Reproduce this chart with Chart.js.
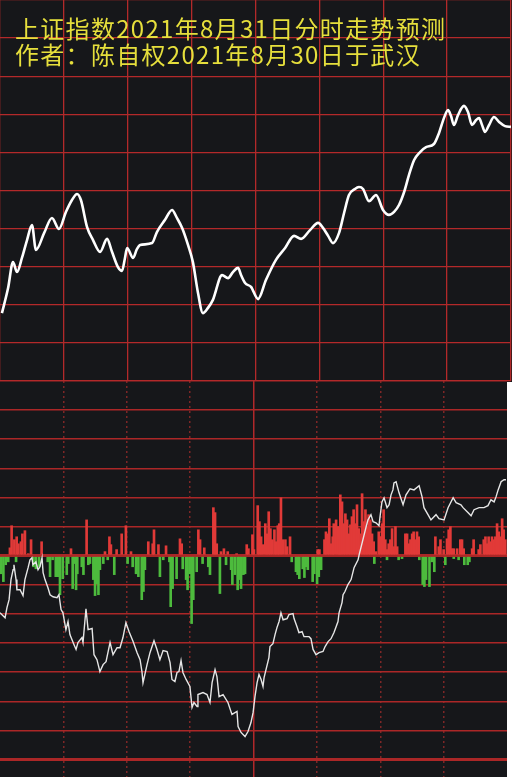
<!DOCTYPE html>
<html><head><meta charset="utf-8">
<script src="https://cdn.jsdelivr.net/npm/chart.js@4.4.1/dist/chart.umd.min.js"></script>
<style>
html,body{margin:0;padding:0;background:#ffffff;width:512px;height:777px;overflow:hidden;}
#topPanel{position:absolute;left:0;top:0;width:512px;height:382px;background:#16171a;}
#bottomPanel{position:absolute;left:0;top:381px;width:507px;height:396px;background:#16171a;}
#title{position:absolute;left:15px;top:15px;color:#e6df3c;font-family:"Noto Sans CJK SC";font-size:24px;line-height:26px;letter-spacing:1.3px;white-space:nowrap;}
canvas{display:block;}
</style></head><body>
<div id="topPanel"><canvas id="c1" width="512" height="382"></canvas></div>
<div id="bottomPanel"><canvas id="c2" width="507" height="396"></canvas></div>
<div id="title">上证指数2021年8月31日分时走势预测<br>作者：陈自权2021年8月30日于武汉</div>
<script>
// ---- data (x = trading minute 0..240) ----
// forecast curve (top panel), y in grid units
const forecastCurve = [[0.9,1.78],[3.8,2.44],[6.1,3.12],[8.0,2.86],[10.3,3.23],[12.7,3.70],[15.0,4.09],[16.9,3.44],[20.7,3.88],[24.4,4.28],[27.7,3.99],[31.0,4.44],[33.8,4.75],[36.2,4.91],[38.0,4.75],[40.9,4.04],[43.7,3.70],[47.0,3.39],[50.3,3.73],[52.6,3.39],[55.4,2.99],[57.3,2.89],[58.7,3.23],[59.7,3.49],[62.5,3.23],[64.3,3.46],[65.8,3.57],[71.4,3.62],[73.7,3.91],[77.5,4.23],[80.8,4.49],[83.1,4.28],[85.5,4.02],[88.3,3.57],[90.6,3.12],[93.0,2.31],[95.3,1.78],[97.7,1.92],[100.0,2.13],[104.3,2.78],[107.1,2.70],[109.4,2.86],[111.8,2.97],[113.2,2.78],[115.1,2.57],[117.9,2.47],[121.2,2.15],[124.9,2.65],[129.6,3.18],[133.9,3.49],[138.1,3.81],[141.4,3.73],[145.6,3.96],[149.4,4.15],[151.7,4.02],[154.1,3.81],[156.4,3.62],[159.2,3.88],[161.6,4.41],[163.9,4.88],[166.7,5.04],[168.6,5.09],[170.5,5.04],[173.3,4.72],[176.6,4.88],[179.9,4.49],[182.7,4.36],[185.1,4.44],[187.4,4.62],[189.8,4.96],[192.1,5.41],[194.5,5.80],[197.3,6.01],[200.1,6.14],[203.8,6.22],[206.2,6.51],[208.5,6.90],[210.4,7.11],[211.8,6.96],[213.2,6.72],[215.1,6.98],[217.9,7.22],[219.8,7.06],[221.7,6.72],[223.6,6.85],[225.0,6.90],[226.4,6.72],[227.8,6.54],[229.7,6.72],[232.0,6.93],[234.4,6.80],[237.2,6.69],[240.0,6.67]];

// intraday line (bottom panel)
const intradayLine = [[0,-1.96],[2.4,-2.13],[3.3,-1.78],[4.3,-1.51],[5.2,-0.82],[6.2,-0.48],[6.6,-0.31],[7.6,-0.82],[8.0,-1.17],[9.5,-1.17],[10.9,-1.37],[11.8,-0.82],[13.3,-0.41],[14.2,-0.14],[15.1,-0.07],[15.6,-0.31],[17.0,-0.21],[18.0,-0.48],[18.9,-0.38],[19.9,-0.07],[20.4,-0.58],[21.3,-0.82],[22.7,-1.10],[23.7,-1.34],[25.1,-1.41],[27.0,-1.44],[27.9,-1.34],[28.9,-1.85],[29.8,-1.96],[31.2,-2.54],[32.2,-2.26],[33.1,-2.71],[35.0,-3.05],[36.0,-3.22],[36.9,-2.98],[38.8,-2.81],[39.3,-2.98],[40.7,-1.82],[41.7,-2.54],[43.6,-2.50],[44.5,-3.40],[45.9,-3.57],[47.3,-3.98],[48.8,-3.74],[50.2,-3.64],[52.1,-2.98],[53.5,-3.40],[55.4,-3.16],[56.8,-3.16],[58.2,-2.81],[59.6,-2.30],[61.1,-2.61],[63.0,-2.95],[64.9,-3.33],[66.3,-3.57],[67.2,-3.98],[67.7,-4.36],[69.6,-3.74],[71.0,-3.33],[72.9,-2.92],[74.3,-3.22],[75.7,-3.57],[77.2,-3.26],[79.1,-3.29],[80.5,-3.67],[81.4,-4.25],[82.8,-4.32],[83.8,-4.01],[84.7,-3.98],[85.7,-3.60],[86.6,-4.01],[88.1,-4.25],[89.9,-4.49],[90.9,-5.21],[91.8,-5.04],[93.3,-5.18],[93.7,-4.77],[96.1,-4.70],[98.0,-4.77],[99.4,-5.04],[100.4,-4.36],[101.8,-3.91],[102.7,-4.15],[103.7,-4.84],[105.6,-4.77],[107.9,-5.04],[109.8,-5.45],[112.2,-5.35],[112.7,-5.87],[114.1,-6.07],[116.0,-6.21],[117.4,-6.04],[118.8,-5.73],[119.8,-5.39],[120.7,-4.84],[121.7,-4.36],[122.6,-4.08],[123.6,-4.25],[124.5,-4.49],[125.0,-4.19],[127.3,-3.50],[127.8,-3.12],[129.2,-3.02],[130.2,-2.71],[131.1,-2.47],[132.1,-2.26],[133.0,-1.96],[134.0,-2.20],[135.9,-2.16],[136.8,-2.02],[138.7,-1.99],[139.2,-2.16],[140.6,-2.44],[141.5,-2.64],[143.0,-2.61],[143.9,-2.78],[146.3,-2.78],[147.2,-2.85],[148.2,-3.22],[149.6,-3.40],[151.0,-3.33],[152.9,-3.29],[153.9,-3.12],[155.3,-2.95],[156.7,-2.85],[158.1,-2.64],[159.1,-2.44],[160.0,-2.26],[160.5,-1.96],[161.9,-1.61],[162.4,-1.34],[163.3,-1.23],[164.7,-0.99],[166.2,-0.82],[167.6,-0.41],[169.5,-0.14],[170.0,0.03],[171.8,0.55],[173.3,0.99],[174.2,1.23],[175.6,1.41],[176.6,1.17],[178.0,1.13],[179.4,1.03],[179.9,1.34],[180.8,1.85],[181.8,1.99],[183.2,1.65],[184.2,1.75],[185.1,2.09],[186.0,2.26],[186.5,2.50],[187.5,2.54],[188.9,2.16],[190.8,1.75],[192.2,2.09],[194.1,2.30],[196.0,2.26],[198.4,2.40],[199.8,2.02],[200.7,1.65],[202.6,1.41],[204.0,1.23],[206.4,1.41],[207.8,1.27],[210.2,1.23],[212.1,1.65],[214.5,1.99],[215.9,1.82],[218.2,1.75],[219.2,1.65],[221.5,1.48],[223.0,1.37],[224.4,1.58],[226.8,1.65],[229.1,1.65],[231.0,1.72],[232.4,1.92],[233.9,1.85],[234.8,2.02],[235.8,2.26],[237.2,2.54],[238.6,2.61],[239.5,2.61]];

// up (red) bars
const upBars = [[4.7,0.27],[5.5,1.03],[6.8,0.55],[7.9,0.65],[8.7,0.41],[9.9,0.48],[10.6,0.75],[11.8,0.86],[13.4,0.07],[14.7,0.55],[19.7,0.48],[33.6,0.24],[41.0,1.23],[49.7,0.14],[51.8,0.65],[52.5,0.38],[55.2,0.21],[57.6,0.75],[59.6,1.03],[62.0,0.14],[70.2,0.48],[72.3,0.41],[72.9,0.89],[75.0,0.38],[78.6,0.34],[85.2,0.58],[86.0,0.41],[93.9,0.89],[94.7,0.55],[96.7,0.27],[101.0,1.65],[101.8,1.48],[102.6,0.41],[104.6,0.14],[106.0,0.24],[107.8,0.14],[112.0,0.07],[116.8,0.38],[117.6,0.24],[119.5,0.72],[120.2,0.21],
[122.0,1.72],[122.8,1.17],[123.6,0.65],[124.4,0.38],[125.6,1.10],[126.4,0.75],[127.2,1.51],[128.0,0.93],[128.8,0.55],[129.9,0.89],[130.7,0.48],[131.5,1.03],[132.2,1.10],[133.0,1.99],[133.8,0.55],[135.1,0.55],[135.9,0.31],[137.3,0.65],[150.4,0.21],[151.2,0.21],[153.6,0.55],[154.3,0.82],[155.1,0.75],[155.9,1.27],[156.7,0.41],[157.5,0.65],[158.0,1.10],[159.1,1.23],[159.9,1.00],[160.7,0.55],[161.1,2.09],[161.9,1.85],[162.7,1.10],[163.5,1.44],[164.3,1.23],[165.1,0.75],[165.9,1.06],[166.6,1.34],[167.4,1.58],[168.2,1.10],[169.0,1.75],[169.8,0.93],[170.6,0.75],[171.4,2.13],[172.2,1.17],[173.0,1.58],[173.7,1.00],[174.5,1.41],[175.3,1.23],[176.1,0.75],[176.9,0.48],[178.0,0.14],[179.3,0.82],[180.1,0.65],[180.9,1.10],[181.6,1.58],[182.4,0.55],[183.2,0.21],[184.0,0.41],[184.8,0.55],[185.6,0.93],[186.4,0.31],[187.2,1.00],[188.0,0.31],[191.9,0.75],[192.7,0.75],[193.5,0.41],[194.3,0.55],[195.1,0.75],[195.8,0.82],[196.6,0.55],[197.4,0.82],[198.2,0.65],[206.1,0.65],[207.7,0.31],[208.5,0.55],[210.0,0.21],[211.6,0.58],[212.4,0.89],[213.2,1.00],[214.0,0.24],[214.8,0.24],[216.4,0.24],[217.9,0.55],[218.7,0.55],[219.5,0.24],[223.5,0.24],[224.2,0.55],[226.6,0.21],[227.4,0.38],[229.0,0.55],[229.8,0.65],[230.6,0.41],[231.3,0.65],[232.1,0.48],[232.9,0.65],[233.7,0.55],[234.5,0.65],[235.3,1.10],[236.1,0.82],[236.9,0.65],[237.7,1.27],[238.4,0.89],[239.2,0.55]];

// down (green) bars
const downBars = [[0.5,-0.62],[1.6,-0.89],[2.7,-0.31],[3.9,-0.21],[7.6,-0.21],[15.8,-0.38],[17.0,-0.45],[18.5,-0.38],[22.6,-0.21],[23.7,-0.72],[24.9,-0.14],[26.4,-0.72],[27.6,-0.72],[28.4,-1.34],[29.7,-0.79],[31.6,-0.65],[32.3,-0.27],[34.4,-1.13],[35.2,-0.27],[36.0,-1.17],[36.6,-0.62],[38.7,-0.38],[39.5,-0.65],[41.8,-0.31],[42.6,-0.27],[44.2,-0.82],[45.0,-1.37],[45.8,-0.96],[46.6,-1.34],[47.3,-0.48],[48.9,-0.27],[51.0,-0.14],[54.1,-0.65],[60.4,-0.27],[62.8,-0.38],[64.4,-0.62],[65.5,-0.72],[67.1,-1.51],[67.9,-1.23],[68.6,-0.48],[75.7,-0.72],[77.3,-0.14],[80.2,-0.21],[80.8,-1.75],[81.7,-1.13],[83.6,-0.79],[86.5,-0.45],[88.1,-0.82],[88.8,-1.17],[89.9,-0.62],[90.7,-2.33],[91.5,-1.51],[93.1,-0.55],[95.9,-0.27],[98.6,-0.38],[99.4,-0.65],[104.1,-1.30],[107.0,-0.31],[109.4,-0.48],[110.0,-0.99],[111.2,-0.65],[112.5,-1.17],[113.3,-0.82],[114.1,-1.13],[115.2,-0.65],[116.0,-0.62],
[138.1,-0.21],[140.1,-0.55],[140.9,-0.65],[141.7,-0.79],[143.3,-0.45],[144.1,-0.75],[144.9,-0.38],[145.7,-0.48],[148.0,-0.89],[148.8,-0.62],[150.1,-0.96],[150.9,-0.72],[152.0,-0.48],[177.2,-0.27],[183.2,-0.14],[188.7,-0.14],[190.3,-0.10],[198.5,-0.14],[200.1,-0.99],[200.9,-1.06],[201.7,-0.82],[203.3,-1.06],[204.5,-0.21],[205.6,-0.55],[210.8,-0.31],[214.8,-0.10],[217.1,-0.14],[219.8,-0.31],[221.4,-0.31],[222.2,-0.21]];

const toXY = arr => arr.map(p => ({x: p[0], y: p[1]}));

// ---- top chart ----
new Chart(document.getElementById('c1'), {
  type: 'line',
  data: { datasets: [{
    data: toXY(forecastCurve),
    borderColor: '#ffffff', borderWidth: 2.6, pointRadius: 0,
    cubicInterpolationMode: 'monotone', fill: false
  }]},
  options: {
    responsive: false, animation: false, devicePixelRatio: 1,
    layout: { padding: { right: 1, bottom: 1, left: 0, top: 0 } },
    plugins: { legend: { display: false }, tooltip: { enabled: false } },
    scales: {
      x: { type: 'linear', min: 0, max: 240,
        ticks: { display: false, stepSize: 30 },
        grid: { color: '#b3292a', lineWidth: 1.3, drawTicks: false },
        border: { display: false } },
      y: { type: 'linear', min: 0, max: 10,
        ticks: { display: false, stepSize: 1 },
        grid: { color: '#b3292a', lineWidth: 1.3, drawTicks: false },
        border: { display: false } }
    }
  }
});

// ---- bottom chart ----
new Chart(document.getElementById('c2'), {
  type: 'bar',
  data: { datasets: [
    { type: 'line', data: toXY(intradayLine), borderColor: '#e6e6e6', borderWidth: 1.4,
      pointRadius: 0, tension: 0, fill: false, order: 0 },
    { data: toXY(upBars), backgroundColor: '#e13a38', barThickness: 2, grouped: false, order: 1 },
    { data: toXY(downBars), backgroundColor: '#4dbb3d', barThickness: 2, grouped: false, order: 2 }
  ]},
  options: {
    responsive: false, animation: false, devicePixelRatio: 1,
    layout: { padding: 0 },
    plugins: { legend: { display: false }, tooltip: { enabled: false } },
    scales: {
      x: { type: 'linear', min: 0, max: 240, offset: false,
        ticks: { display: false, stepSize: 30 },
        grid: { offset: false, drawTicks: false, lineWidth: 1.5,
          color: c => (c.tick && (c.tick.value === 0 || c.tick.value === 240)) ? 'rgba(0,0,0,0)'
                    : (c.tick && c.tick.value === 120 ? '#b0282a' : '#7e2626') },
        border: { display: false, dash: c => (c.tick && c.tick.value === 120) ? [] : [2, 3] } },
      y: { type: 'linear', min: -7.6, max: 6,
        afterBuildTicks: axis => { const t = []; for (let v = -7; v <= 6; v++) t.push({ value: v }); axis.ticks = t; },
        ticks: { display: false },
        grid: { drawTicks: false, color: '#ab2727',
          lineWidth: c => (c.tick && (c.tick.value === 0 || c.tick.value === -7)) ? 3 : 1.5 },
        border: { display: false } }
    }
  }
});
</script>
</body></html>
